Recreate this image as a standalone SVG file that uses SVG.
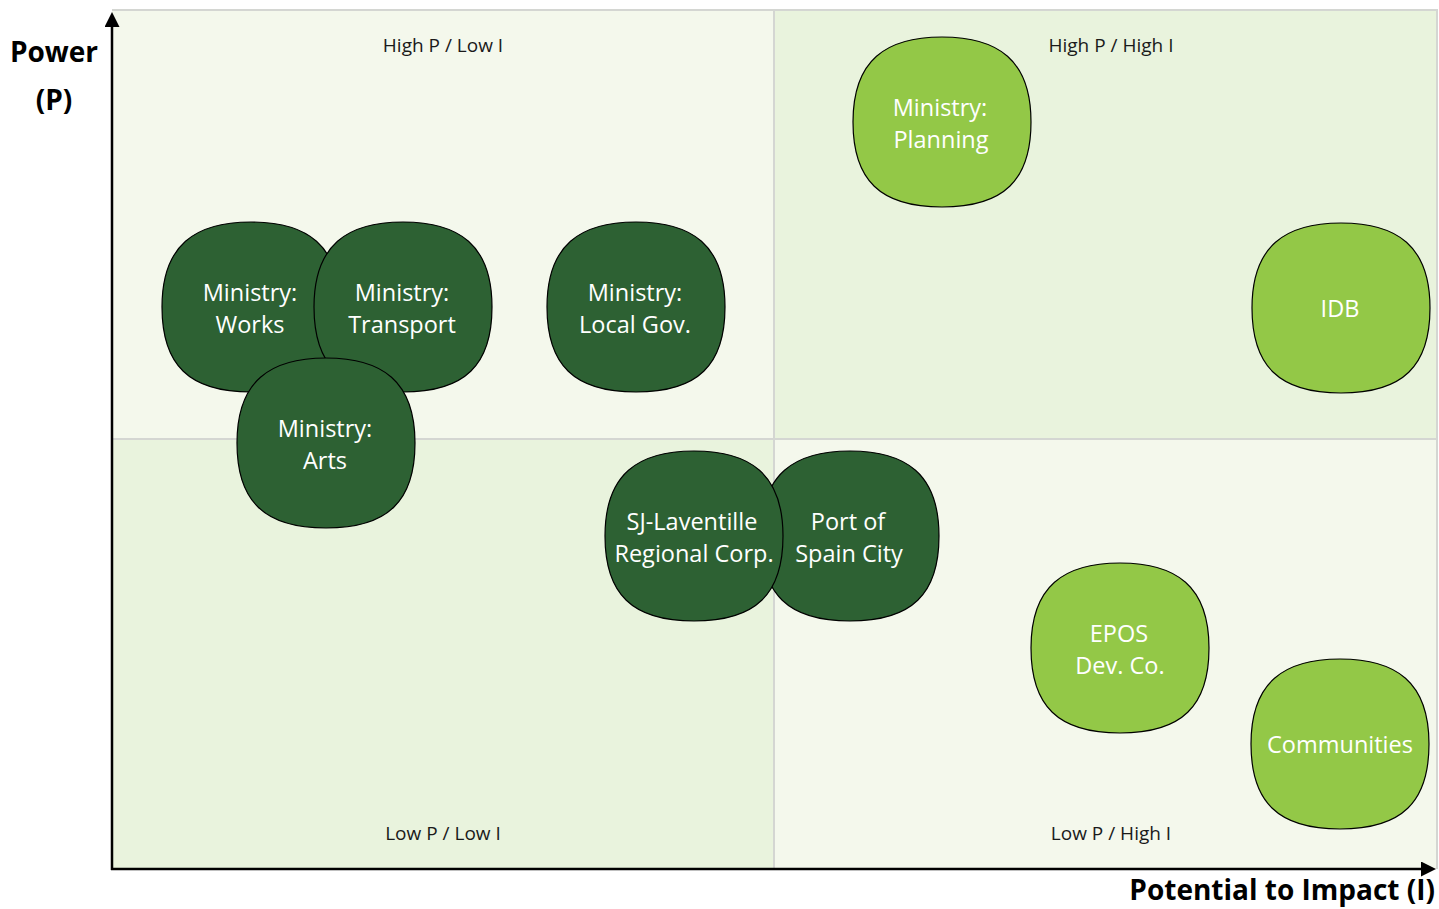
<svg xmlns="http://www.w3.org/2000/svg" width="1439" height="909" viewBox="0 0 1439 909">
<style>
.q1{fill:#f4f8ec}
.q2{fill:#e9f3dd}
.grid{stroke:#d4d6d2;stroke-width:2;fill:none}
.axis{stroke:#000;stroke-width:2.5;fill:none}
.ql{font-family:"Open Sans","Noto Sans",sans-serif;font-size:19px;fill:#1a1a1a;text-anchor:middle}
.al{font-family:"Open Sans","Noto Sans",sans-serif;font-size:28px;font-weight:bold;fill:#000}
.dark{fill:#2d6133;stroke:#000;stroke-width:1.2}
.light{fill:#93c847;stroke:#000;stroke-width:1.2}
.nt{font-family:"Open Sans","Noto Sans",sans-serif;font-size:23.5px;fill:#fff;text-anchor:middle}
</style>
<defs>
<path id="blob" d="M0,-85 C56,-85 89,-62 89,0 C89,58 62,85 0,85 C-62,85 -89,58 -89,0 C-89,-62 -56,-85 0,-85 Z"/>
<marker id="arr" viewBox="0 0 10 10" refX="2" refY="5" markerWidth="6" markerHeight="6" orient="auto" markerUnits="strokeWidth">
<path d="M0,0 L10,5 L0,10 Z" fill="#000"/>
</marker>
</defs>
<rect width="1439" height="909" fill="#fff"/>
<g id="quadrants">
<rect class="q1" x="112" y="10" width="662" height="429"/>
<rect class="q2" x="774" y="10" width="663" height="429"/>
<rect class="q2" x="112" y="439" width="662" height="430"/>
<rect class="q1" x="774" y="439" width="663" height="430"/>
<path class="grid" d="M112,10 H1437 V869 M774,10 V869 M112,439 H1437"/>
<text class="ql" x="443" y="52">High P / Low I</text>
<text class="ql" x="1111" y="52">High P / High I</text>
<text class="ql" x="443" y="840">Low P / Low I</text>
<text class="ql" x="1111" y="840">Low P / High I</text>
</g>
<g id="connectors">
<line class="axis" x1="112" y1="870" x2="112" y2="24" marker-end="url(#arr)"/>
<line class="axis" x1="111" y1="869" x2="1424" y2="869" marker-end="url(#arr)"/>
</g>
<g id="axis-labels">
<text class="al" x="54" y="62" text-anchor="middle">Power</text>
<text class="al" x="54" y="110" text-anchor="middle">(P)</text>
<text class="al" x="1435" y="900" text-anchor="end">Potential to Impact (I)</text>
</g>
<g id="node-works">
<use href="#blob" class="dark" x="251" y="307"/>
<text class="nt" x="250" y="301">Ministry:</text>
<text class="nt" x="250" y="333">Works</text>
</g>
<g id="node-transport">
<use href="#blob" class="dark" x="403" y="307"/>
<text class="nt" x="402" y="301">Ministry:</text>
<text class="nt" x="402" y="333">Transport</text>
</g>
<g id="node-localgov">
<use href="#blob" class="dark" x="636" y="307"/>
<text class="nt" x="635" y="301">Ministry:</text>
<text class="nt" x="635" y="333">Local Gov.</text>
</g>
<g id="node-arts">
<use href="#blob" class="dark" x="326" y="443"/>
<text class="nt" x="325" y="437">Ministry:</text>
<text class="nt" x="325" y="469">Arts</text>
</g>
<g id="node-portofspain">
<use href="#blob" class="dark" x="850" y="536"/>
<text class="nt" x="848" y="530">Port of</text>
<text class="nt" x="849" y="562">Spain City</text>
</g>
<g id="node-sjlaventille">
<use href="#blob" class="dark" x="694" y="536"/>
<text class="nt" x="692" y="530">SJ-Laventille</text>
<text class="nt" x="694" y="562">Regional Corp.</text>
</g>
<g id="node-planning">
<use href="#blob" class="light" x="942" y="122"/>
<text class="nt" x="940" y="116">Ministry:</text>
<text class="nt" x="941" y="148">Planning</text>
</g>
<g id="node-idb">
<use href="#blob" class="light" x="1341" y="308"/>
<text class="nt" x="1340" y="317">IDB</text>
</g>
<g id="node-epos">
<use href="#blob" class="light" x="1120" y="648"/>
<text class="nt" x="1119" y="642">EPOS</text>
<text class="nt" x="1120" y="674">Dev. Co.</text>
</g>
<g id="node-communities">
<use href="#blob" class="light" x="1340" y="744"/>
<text class="nt" x="1340" y="753">Communities</text>
</g>
</svg>
